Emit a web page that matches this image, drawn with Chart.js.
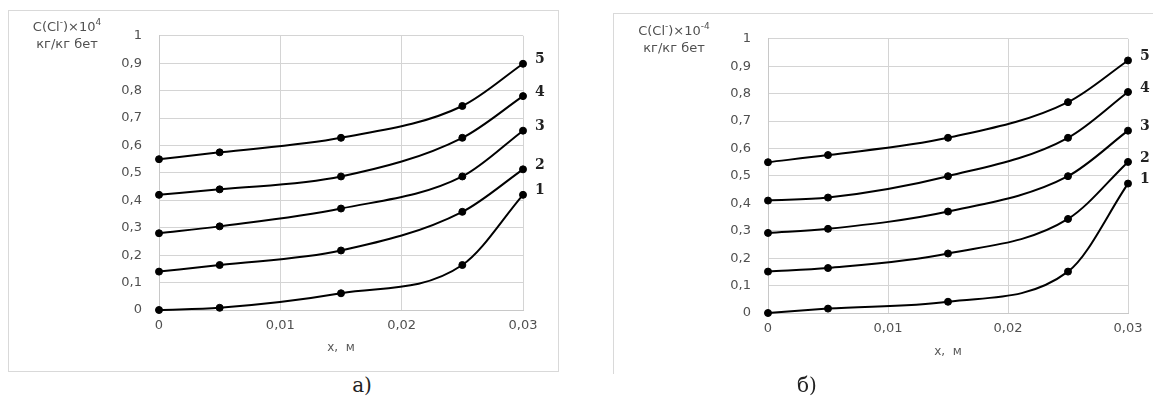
<!DOCTYPE html>
<html>
<head>
<meta charset="utf-8">
<script src="https://cdn.jsdelivr.net/npm/chart.js@4"></script>
<style>
  body { margin:0; width:1153px; height:396px; background:#fff; position:relative; overflow:hidden; font-family:"DejaVu Sans", Verdana, sans-serif; }
  .frame { position:absolute; box-sizing:border-box; }
  #frameA { left:8px; top:10px; width:551px; height:362px; border:1px solid #d9d9d9; }
  #frameB { left:613px; top:13px; width:540px; height:361px; border-left:1px solid #d9d9d9; border-top:1px solid #d9d9d9; }
  .frame canvas { position:absolute; left:0; top:0; }
  .ytitle { position:absolute; color:#505050; font-size:13px; text-align:center; line-height:17px; }
  .ytitle sup { font-size:9px; vertical-align:6px; line-height:0; }
  .caption { position:absolute; font-family:"DejaVu Serif", "Liberation Serif", serif; font-size:20px; color:#222; transform:translateX(-50%); }
</style>
</head>
<body>
<div class="frame" id="frameA"><canvas id="chartA"></canvas></div>
<div class="frame" id="frameB"><canvas id="chartB"></canvas></div>
<div class="ytitle" style="left:24px;top:18px;width:86px;">C(Cl<sup>-</sup>)×10<sup>4</sup><br>кг/кг бет</div>
<div class="ytitle" style="left:629px;top:22px;width:90px;">C(Cl<sup>-</sup>)×10<sup>-4</sup><br>кг/кг бет</div>
<div class="caption" style="left:362px;top:373px;">а)</div>
<div class="caption" style="left:807px;top:373px;">б)</div>
<script>
// x positions of the measured points, m
const xValues = [0, 0.005, 0.015, 0.025, 0.03];
const curveNames = ['1', '2', '3', '4', '5'];

// panel a)
const a1 = [0, 0.008, 0.061, 0.164, 0.42];
const a2 = [0.14, 0.164, 0.217, 0.358, 0.513];
const a3 = [0.28, 0.305, 0.37, 0.487, 0.654];
const a4 = [0.42, 0.44, 0.487, 0.628, 0.78];
const a5 = [0.55, 0.575, 0.628, 0.744, 0.898];

// panel б)
const b1 = [0, 0.016, 0.041, 0.151, 0.472];
const b2 = [0.151, 0.164, 0.217, 0.343, 0.551];
const b3 = [0.292, 0.307, 0.37, 0.499, 0.665];
const b4 = [0.41, 0.421, 0.499, 0.639, 0.806];
const b5 = [0.55, 0.576, 0.639, 0.769, 0.921];

const yTicks = [0, 0.1, 0.2, 0.3, 0.4, 0.5, 0.6, 0.7, 0.8, 0.9, 1];
const xTicks = [0, 0.01, 0.02, 0.03];

const fmt = v => String(+(+v).toFixed(3)).replace('.', ',');

// numbers 1..5 next to the last point of each curve
const curveLabels = {
  id: 'curveLabels',
  afterDatasetsDraw(chart) {
    const ctx = chart.ctx;
    ctx.save();
    ctx.font = 'bold 14px "DejaVu Serif", "Liberation Serif", serif';
    ctx.fillStyle = '#222';
    ctx.textAlign = 'left';
    ctx.textBaseline = 'middle';
    chart.data.datasets.forEach((ds, i) => {
      const pts = chart.getDatasetMeta(i).data;
      const p = pts[pts.length - 1];
      ctx.fillText(ds.label, p.x + 12, p.y - 4);
    });
    ctx.restore();
  }
};

function makeChart(id, w, h, curves, yWidth, xHeight, rightPad, titlePad) {
  const canvas = document.getElementById(id);
  canvas.width = w; canvas.height = h;
  canvas.style.width = w + 'px'; canvas.style.height = h + 'px';
  return new Chart(canvas.getContext('2d'), {
    type: 'line',
    data: {
      datasets: curves.map((c, i) => ({
        label: curveNames[i],
        data: xValues.map((x, j) => ({ x, y: c[j] })),
        borderColor: '#000', backgroundColor: '#000',
        borderWidth: 2, pointRadius: 3.5, pointBorderWidth: 1, pointBackgroundColor: '#000',
        cubicInterpolationMode: 'monotone', clip: false
      }))
    },
    options: {
      responsive: false, animation: false,
      layout: { padding: { top: 15, right: rightPad, left: 0, bottom: 0 } },
      plugins: { legend: { display: false }, tooltip: { enabled: false } },
      scales: {
        x: {
          type: 'linear', min: 0, max: 0.03,
          afterBuildTicks: s => { s.ticks = xTicks.map(v => ({ value: v })); },
          afterFit: s => { s.height = xHeight; },
          grid: { color: '#d4d4d4', drawTicks: false },
          border: { color: '#c8c8c8' },
          ticks: { padding: 8, color: '#505050', font: { size: 13, family: 'DejaVu Sans' }, callback: fmt },
          title: { display: true, text: 'x,  м', color: '#595959', font: { size: 12, family: 'DejaVu Sans' }, padding: { top: 0, bottom: titlePad } }
        },
        y: {
          min: 0, max: 1,
          afterBuildTicks: s => { s.ticks = yTicks.map(v => ({ value: v })); },
          afterFit: s => { s.width = yWidth; },
          grid: { color: '#d4d4d4', drawTicks: false },
          border: { color: '#c8c8c8' },
          ticks: { padding: 17, color: '#505050', font: { size: 13, family: 'DejaVu Sans' }, callback: fmt }
        }
      }
    },
    plugins: [curveLabels]
  });
}

makeChart('chartA', 550, 361, [a1, a2, a3, a4, a5], 150, 62, 36, 17);
makeChart('chartB', 540, 360, [b1, b2, b3, b4, b5], 154, 61, 26, 15);
</script>
</body>
</html>
